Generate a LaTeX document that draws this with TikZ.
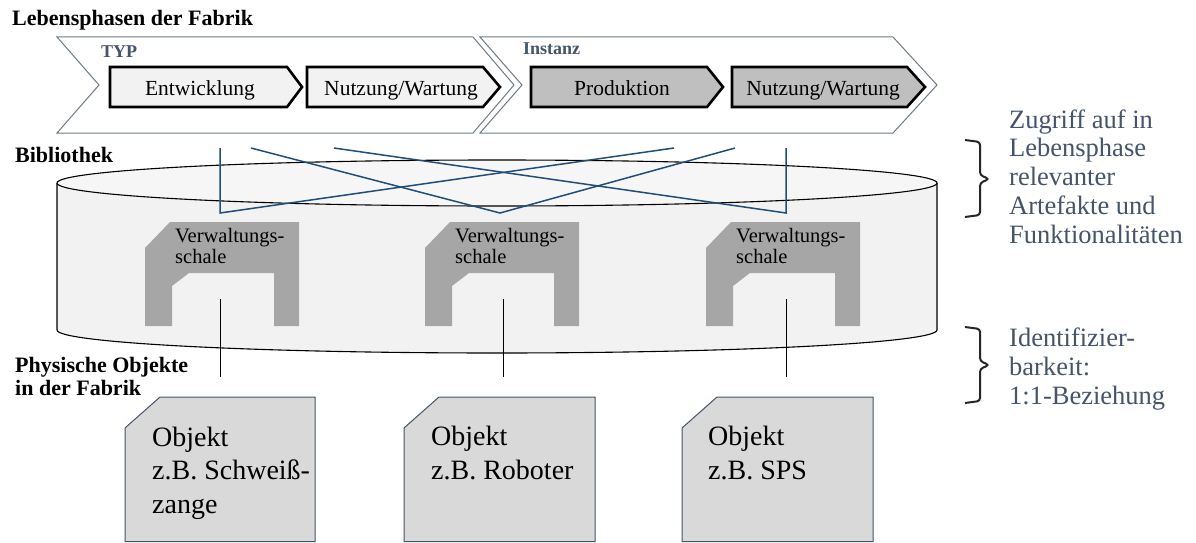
\documentclass[tikz,border=0pt]{standalone}
\usepackage{fontspec}
\setmainfont{Liberation Serif}
\newcommand\fsz[2]{\fontsize{#1}{#2}\selectfont}
\definecolor{chevline}{HTML}{6E7B88}
\definecolor{slate}{HTML}{44546A}
\definecolor{linkblue}{HTML}{1F4E79}
\definecolor{paleFill}{HTML}{F2F2F2}
\definecolor{topFill}{HTML}{F6F6F6}
\definecolor{phaseDark}{HTML}{BFBFBF}
\definecolor{aasFill}{HTML}{A6A6A6}
\definecolor{objFill}{HTML}{D9D9D9}
\begin{document}
\begin{tikzpicture}[x=1pt,y=1pt,
  bigchev/.style={draw=chevline,line width=1pt,fill=white,line join=miter},
  phasebox/.style={draw=black,line width=2.6pt,line join=miter},
  phasetext/.style={inner sep=0,anchor=base,font=\fsz{21.5}{24}},
  heading/.style={inner sep=0,anchor=base west,align=left,font=\fsz{22}{23}\bfseries},
  stage/.style={inner sep=0,anchor=base west,text=slate,font=\fsz{18}{20}\bfseries},
  aas/.style={fill=aasFill},
  aastext/.style={inner sep=0,anchor=base west,align=left,font=\fsz{20.5}{21}},
  link/.style={draw=linkblue,line width=1.5pt,line join=miter},
  tie/.style={draw=black,line width=1pt},
  objbox/.style={draw=slate,line width=1pt,fill=objFill},
  objtext/.style={inner sep=0,anchor=base west,align=left,font=\fsz{28}{33.5}},
  note/.style={inner sep=0,anchor=base west,align=left,text=slate,font=\fsz{26.5}{28.7}},
  brace/.style={draw=black!85,line width=2pt,rounded corners=3pt}]

\fill[white] (0,0) rectangle (1196,-543);
\useasboundingbox (0,0) rectangle (1196,-543);

% ---------- life phases ----------
\node[heading] (titel) at (12,-26) {Lebensphasen der Fabrik};

\draw[bigchev] (57,-37) -- (473,-37) -- (514,-85) -- (473,-133) -- (57,-133) -- (99,-85) -- cycle;
\draw[bigchev] (480,-37) -- (893,-37) -- (937,-85) -- (893,-133) -- (480,-133) -- (522,-85) -- cycle;
\node[stage] (typ) at (101,-57) {TYP};
\node[stage] (instanz) at (523,-55) {Instanz};

\draw[phasebox,fill=paleFill]  (110,-67) -- (287,-67) -- (302,-87) -- (287,-107) -- (110,-107) -- cycle;
\draw[phasebox,fill=paleFill]  (307,-67) -- (483,-67) -- (500,-87) -- (483,-107) -- (307,-107) -- cycle;
\draw[phasebox,fill=phaseDark] (531,-67) -- (707,-67) -- (723,-87) -- (707,-107) -- (531,-107) -- cycle;
\draw[phasebox,fill=phaseDark] (732,-67) -- (907,-67) -- (925,-87) -- (907,-107) -- (732,-107) -- cycle;
\node[phasetext] (entw)  at (200,-95) {Entwicklung};
\node[phasetext] (nutz1) at (401,-95) {Nutzung/Wartung};
\node[phasetext] (prod)  at (622,-95) {Produktion};
\node[phasetext] (nutz2) at (823,-95) {Nutzung/Wartung};

% ---------- library cylinder ----------
\node[heading] (bib) at (15,-162) {Bibliothek};
\fill[paleFill] (57,-183) -- (57,-330) arc[start angle=180,end angle=360,x radius=440pt,y radius=23pt]
  -- (937,-183) -- cycle;
\draw[line width=1.1pt] (57,-183) -- (57,-330) arc[start angle=180,end angle=360,x radius=440pt,y radius=23pt]
  -- (937,-183);
\draw[line width=1.1pt,fill=topFill] (497,-183) ellipse[x radius=440pt,y radius=23pt];

% ---------- asset administration shells ----------
\foreach \x/\l/\n in {145/220/a,425/503/b,706/786/c}{
  \fill[aas] ({\x+25},-222) -- ({\x+154},-222) -- ({\x+154},-326) -- ({\x+129},-326)
    -- ({\x+129},-273) -- ({\x+44},-273) -- ({\x+27},-286) -- ({\x+27},-326)
    -- (\x,-326) -- (\x,-248) -- cycle;
  \node[aastext] (vws\n) at ({\x+30},-263) {Verwaltungs-\\schale};
  \coordinate (in\n) at (\l,-299);
  \coordinate (down\n) at (\l,-377);
}

% access links from the phases into the shells
\coordinate (ja) at (220,-213);
\coordinate (jb) at (500,-213);
\coordinate (jc) at (786,-213);
\coordinate (ea) at (220,-148);
\coordinate (eb) at (251,-148);
\coordinate (ec) at (334,-148);
\coordinate (pa) at (674,-148);
\coordinate (pb) at (735,-148);
\coordinate (pc) at (786,-148);
\draw[link] (ea) -- (ja) -- (pa);
\draw[link] (eb) -- (jb) -- (pb);
\draw[link] (ec) -- (jc) -- (pc);

% ---------- physical objects ----------
\node[heading] (phys) at (15,-395) {Physische Objekte\\in der Fabrik};

\foreach \x/\r/\n in {125/315/a,404/595/b,682/873/c}{
  \draw[objbox] (\x,-428) -- ({\x+35},-397) -- (\r,-397) -- (\r,-541.5) -- (\x,-541.5) -- cycle;
  \coordinate (obj\n) at (\x,-479);
}
\node[objtext] (oa) at ([xshift=27pt,yshift=-34pt]obja) {Objekt\\z.B. Schwei\ss-\\zange};
\node[objtext] (ob) at ([xshift=27pt]objb) {Objekt\\z.B. Roboter};
\node[objtext] (oc) at ([xshift=26pt]objc) {Objekt\\z.B. SPS};

\draw[tie] (ina) -- (downa);
\draw[tie] (inb) -- (downb);
\draw[tie] (inc) -- (downc);

% ---------- annotations ----------
\draw[brace] (965,-140) -- (980,-142) -- (980,-175) -- (989,-179) -- (980,-183) -- (980,-215) -- (965,-217);
\node[note] (zugriff) at (1009,-243) {Zugriff auf in\\Lebensphase\\relevanter\\Artefakte und\\Funktionalitäten};
\draw[brace] (965,-327) -- (980,-329) -- (980,-361) -- (989,-365) -- (980,-369) -- (980,-401) -- (965,-403);
\node[note] (ident) at (1009,-404) {Identifizier-\\barkeit:\\1:1-Beziehung};
\end{tikzpicture}
\end{document}
